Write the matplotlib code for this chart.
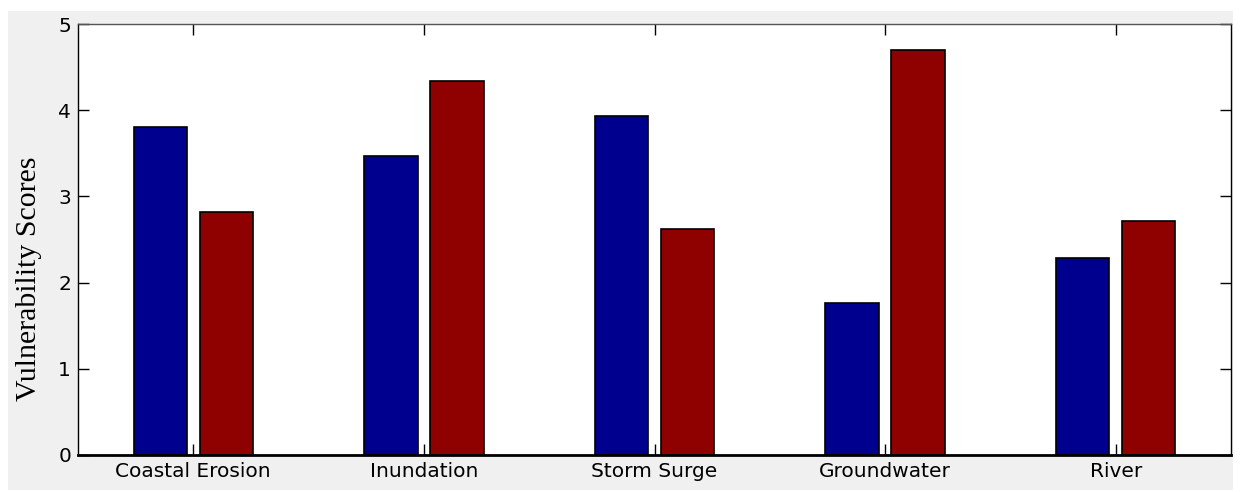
import matplotlib
matplotlib.use("Agg")
import matplotlib.pyplot as plt
from matplotlib.patches import Rectangle
import numpy as np

categories = ["Coastal Erosion", "Inundation", "Storm Surge", "Groundwater", "River"]
series_a = [3.80, 3.47, 3.93, 1.76, 2.29]
series_b = [2.82, 4.34, 2.62, 4.70, 2.71]
y_ticks = [0, 1, 2, 3, 4, 5]

W, H = 1245, 492
fig = plt.figure(figsize=(W / 100, H / 100), dpi=100, facecolor="white")
bg = Rectangle((8 / W, 1 - 490 / H), (1233 - 8) / W, (490 - 11) / H,
               transform=fig.transFigure, facecolor="#f0f0f0",
               edgecolor="none", zorder=-10)
fig.add_artist(bg)
ax = fig.add_axes([78 / W, 1 - 455 / H, (1231 - 78) / W, (455 - 24) / H])
ax.set_zorder(1)
ax.set_facecolor("white")

x = np.arange(1, len(categories) + 1)
w = 0.232
off = 0.143
ax.bar(x - off, series_a, width=w, color="#00008f", edgecolor="black", linewidth=1.2, zorder=2)
ax.bar(x + off, series_b, width=w, color="#8f0000", edgecolor="black", linewidth=1.2, zorder=2)

ax.set_xlim(0.5, 5.5)
ax.set_ylim(0, 5)
ax.set_xticks(x)
ax.set_xticklabels(categories, family="DejaVu Sans", fontsize=14.5)
ax.set_yticks(y_ticks)
ax.set_yticklabels([str(t) for t in y_ticks], family="DejaVu Sans", fontsize=14.5)
ax.tick_params(direction="in", length=8, width=1, top=True, right=True, pad=5)
for s in ax.spines.values():
    s.set_color("black")
    s.set_linewidth(1.0)
ax.spines["bottom"].set_linewidth(2.0)
ax.spines["top"].set_color("#555555")
ax.set_ylabel("Vulnerability Scores", family="Liberation Serif", fontsize=21.5)
ax.yaxis.set_label_coords(-0.031, 0.41)

fig.savefig("out.png", dpi=100, facecolor="white")
